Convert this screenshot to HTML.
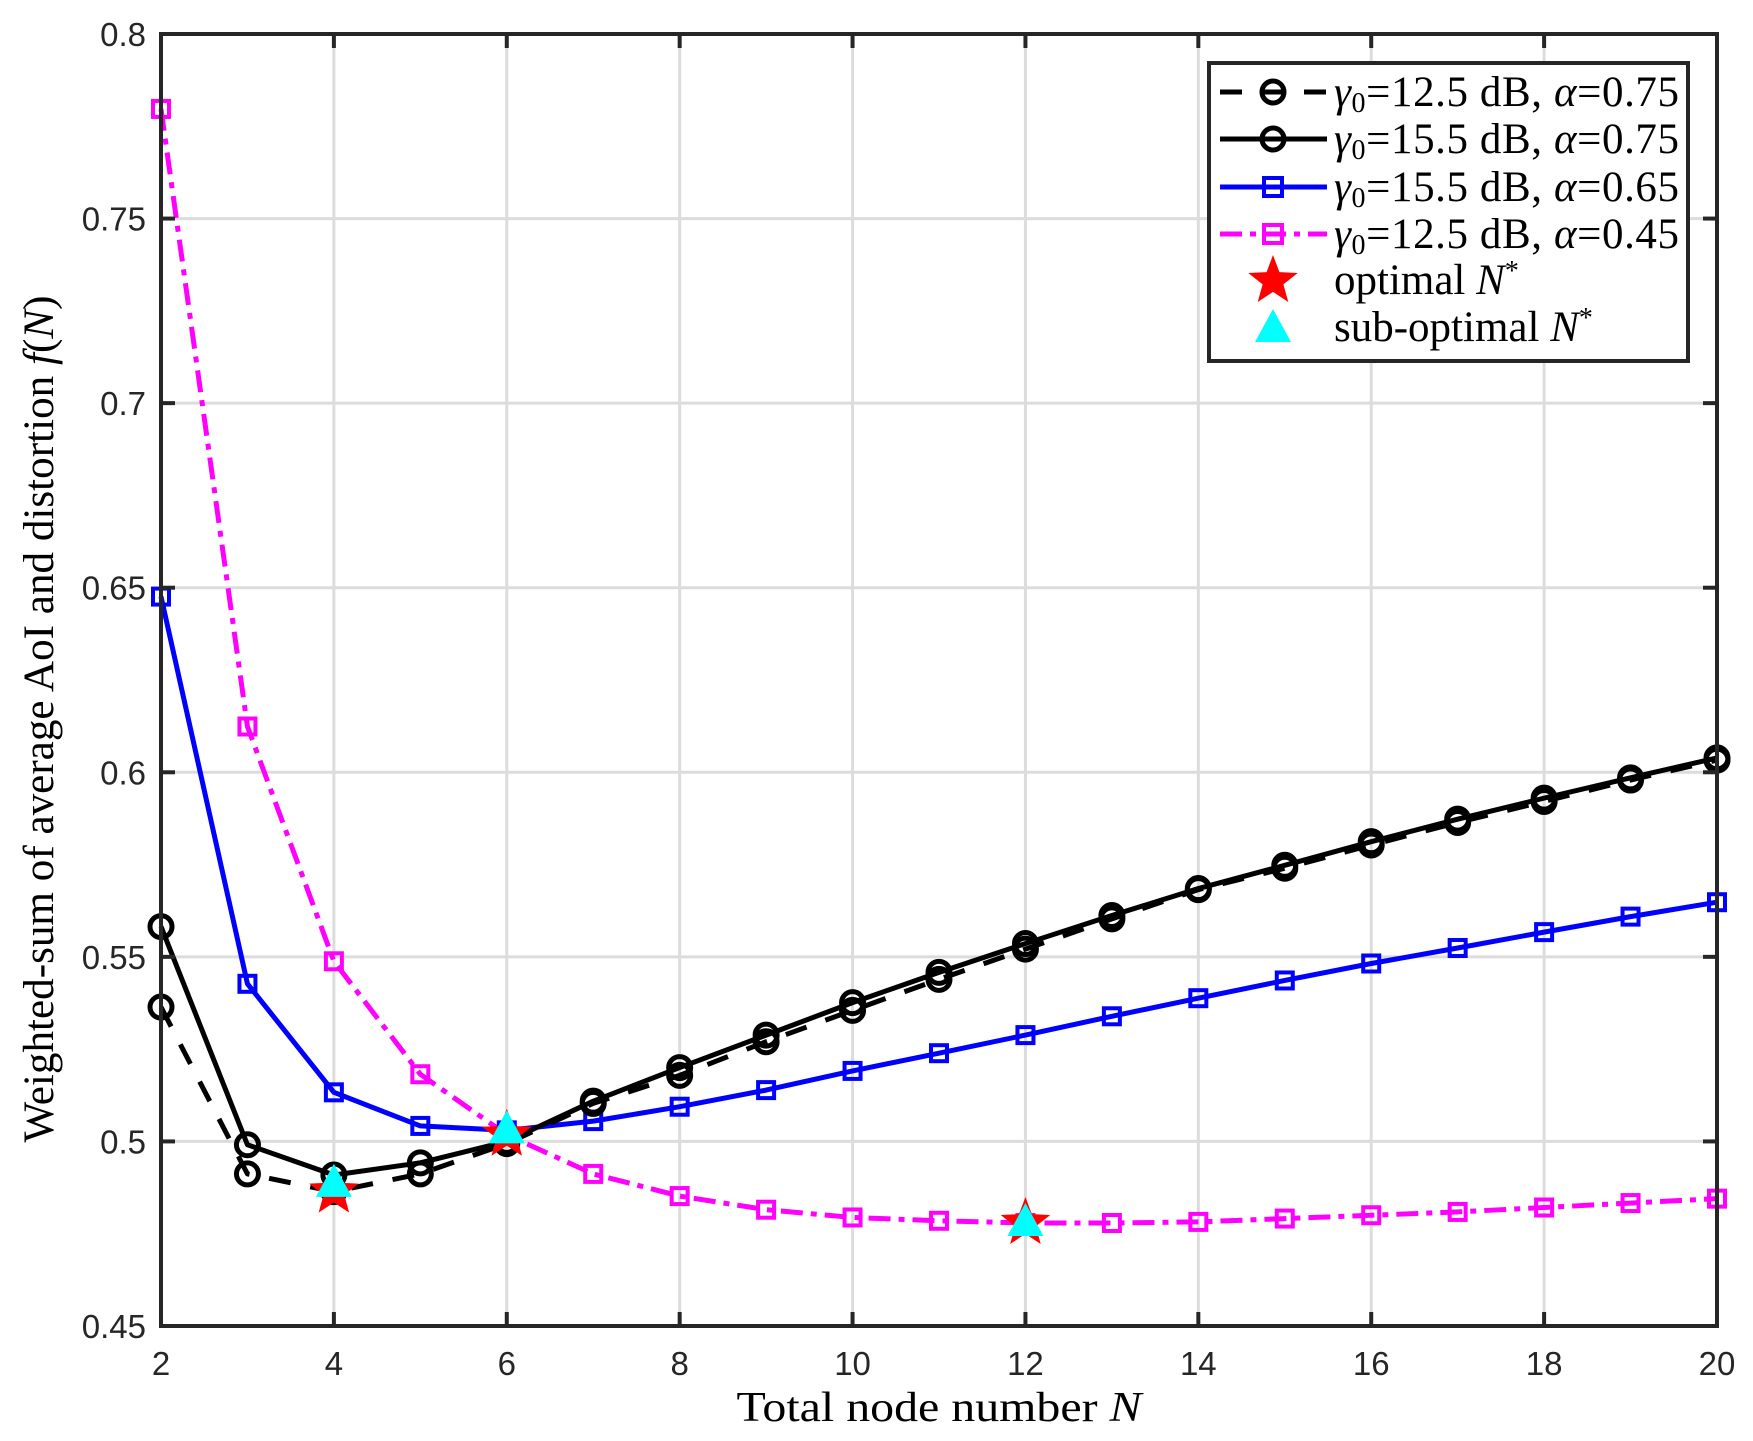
<!DOCTYPE html>
<html><head><meta charset="utf-8"><style>
html,body{margin:0;padding:0;background:#fff;}
svg{display:block;}
.tk{font-family:"Liberation Sans",sans-serif;font-size:33px;fill:#262626;}
.sf{font-family:"Liberation Serif",serif;fill:#000;}
</style></head><body>
<svg id="s" width="1753" height="1441" xmlns="http://www.w3.org/2000/svg">
<rect width="1753" height="1441" fill="#fff"/>
<g id="grid"></g>
<g id="series"></g>
<rect x="161" y="34" width="1556" height="1292" fill="none" stroke="#262626" stroke-width="4"/>
<g id="ticks"></g>
<text class="sf" x="939" y="1421" font-size="42" text-anchor="middle" textLength="405" lengthAdjust="spacingAndGlyphs">Total node number <tspan font-style="italic">N</tspan></text>
<text class="sf" transform="translate(53,719) rotate(-90)" font-size="43" text-anchor="middle" textLength="847" lengthAdjust="spacingAndGlyphs">Weighted-sum of average AoI and distortion <tspan font-style="italic">f</tspan>(<tspan font-style="italic">N</tspan>)</text>
<g id="legend">
<rect x="1209" y="63" width="479" height="298" fill="#fff" stroke="#262626" stroke-width="4"/>
<line x1="1220" y1="92" x2="1327" y2="92" stroke="#000" stroke-width="5" stroke-dasharray="22,20"/>
<circle cx="1273" cy="92" r="11" fill="none" stroke="#000" stroke-width="5"/>
<line x1="1220" y1="139" x2="1327" y2="139" stroke="#000" stroke-width="5"/>
<circle cx="1273" cy="139" r="11" fill="none" stroke="#000" stroke-width="5"/>
<line x1="1220" y1="187" x2="1327" y2="187" stroke="#00f" stroke-width="5"/>
<rect x="1264" y="178" width="18" height="18" fill="none" stroke="#00f" stroke-width="4"/>
<line x1="1220" y1="234" x2="1327" y2="234" stroke="#f0f" stroke-width="5" stroke-dasharray="22,8,6,8"/>
<rect x="1264" y="225" width="18" height="18" fill="none" stroke="#f0f" stroke-width="4"/>
<polygon id="lstar" fill="#f00"/>
<polygon points="1273,309 1255,342 1291,342" fill="#0ff"/>
<g class="sf" font-size="43">
<text x="1334" y="106" textLength="345"><tspan font-style="italic">γ</tspan><tspan font-size="28" dy="6">0</tspan><tspan dy="-6">=12.5 dB, </tspan><tspan font-style="italic">α</tspan>=0.75</text>
<text x="1334" y="153" textLength="345"><tspan font-style="italic">γ</tspan><tspan font-size="28" dy="6">0</tspan><tspan dy="-6">=15.5 dB, </tspan><tspan font-style="italic">α</tspan>=0.75</text>
<text x="1334" y="201" textLength="345"><tspan font-style="italic">γ</tspan><tspan font-size="28" dy="6">0</tspan><tspan dy="-6">=15.5 dB, </tspan><tspan font-style="italic">α</tspan>=0.65</text>
<text x="1334" y="248" textLength="345"><tspan font-style="italic">γ</tspan><tspan font-size="28" dy="6">0</tspan><tspan dy="-6">=12.5 dB, </tspan><tspan font-style="italic">α</tspan>=0.45</text>
<text x="1334" y="294">optimal <tspan font-style="italic">N</tspan><tspan font-size="28" dy="-14">*</tspan></text>
<text x="1334" y="341">sub-optimal <tspan font-style="italic">N</tspan><tspan font-size="28" dy="-14">*</tspan></text>
</g>
</g>
</svg>
<script>
var NS="http://www.w3.org/2000/svg";
function X(n){return 161+(n-2)*86.444;}
function Y(v){return 34+(0.8-v)*3691.4;}
function el(p,t,a){var e=document.createElementNS(NS,t);for(var k in a)e.setAttribute(k,a[k]);p.appendChild(e);return e;}
var g=document.getElementById('grid'),tk=document.getElementById('ticks');
for(var n=4;n<=18;n+=2){el(g,'line',{x1:X(n),x2:X(n),y1:34,y2:1326,stroke:'#dcdcdc','stroke-width':3});}
for(var n=2;n<=20;n+=2){el(tk,'line',{x1:X(n),x2:X(n),y1:1326,y2:1312,stroke:'#262626','stroke-width':4});el(tk,'line',{x1:X(n),x2:X(n),y1:34,y2:48,stroke:'#262626','stroke-width':4});
var t=el(tk,'text',{x:X(n),y:1375,'text-anchor':'middle','class':'tk'});t.textContent=n;}
var yl=['0.45','0.5','0.55','0.6','0.65','0.7','0.75','0.8'];
for(var i=0;i<8;i++){var v=0.45+i*0.05,y=Y(v);
if(i>0&&i<7)el(g,'line',{x1:161,x2:1717,y1:y,y2:y,stroke:'#dcdcdc','stroke-width':3});
el(tk,'line',{x1:161,x2:175,y1:y,y2:y,stroke:'#262626','stroke-width':4});el(tk,'line',{x1:1717,x2:1703,y1:y,y2:y,stroke:'#262626','stroke-width':4});
var t=el(tk,'text',{x:146,y:y+12,'text-anchor':'end','class':'tk'});t.textContent=yl[i];}
var d1=[0.5364,0.4912,0.4864,0.4912,0.4994,0.5103,0.5179,0.527,0.5355,0.5439,0.5521,0.5603,0.5682,0.574,0.5803,0.5864,0.5921,0.5979,0.6033];
var d2=[0.5582,0.4991,0.4909,0.4942,0.5,0.5109,0.52,0.5288,0.5376,0.5458,0.5536,0.5612,0.5685,0.5748,0.5812,0.5873,0.593,0.5985,0.6039];
var d3=[0.6476,0.5427,0.5133,0.5042,0.503,0.5055,0.5094,0.5139,0.5191,0.5239,0.5288,0.5339,0.5388,0.5436,0.5482,0.5524,0.5567,0.5609,0.5648];
var d4=[0.7797,0.6124,0.5488,0.5182,0.5018,0.4912,0.4852,0.4815,0.4794,0.4785,0.4779,0.4779,0.4782,0.4791,0.48,0.4809,0.4821,0.4833,0.4845];
var s=document.getElementById('series');
function pts(d){return d.map(function(v,i){return X(i+2)+','+Y(v);}).join(' ');}
function series(d,col,dash,mk){var a={points:pts(d),fill:'none',stroke:col,'stroke-width':5,'stroke-linejoin':'round'};if(dash)a['stroke-dasharray']=dash;el(s,'polyline',a);
d.forEach(function(v,i){var x=X(i+2),y=Y(v);if(mk=='o')el(s,'circle',{cx:x,cy:y,r:11,fill:'none',stroke:col,'stroke-width':5});else el(s,'rect',{x:x-8,y:y-8,width:16,height:16,fill:'none',stroke:col,'stroke-width':4});});}
series(d4,'#f0f','22,8,6,8','s');
series(d3,'#00f',null,'s');
series(d1,'#000','22,20','o');
series(d2,'#000',null,'o');
function star(cx,cy,R){var r=R*0.42,p=[];for(var i=0;i<10;i++){var a=-Math.PI/2+i*Math.PI/5,rr=i%2?r:R;p.push((cx+rr*Math.cos(a))+','+(cy+rr*Math.sin(a)));}return p.join(' ');}
[[4,0.4864],[6,0.5018],[12,0.4779]].forEach(function(q){el(s,'polygon',{points:star(X(q[0]),Y(q[1]),26),fill:'#f00'});});
[[4,0.4885],[6,0.503],[12,0.4779]].forEach(function(q){var x=X(q[0]),y=Y(q[1]);el(s,'polygon',{points:x+','+(y-20)+' '+(x-18)+','+(y+13)+' '+(x+18)+','+(y+13),fill:'#0ff'});});
document.getElementById('lstar').setAttribute('points',star(1273,281,26));
</script>
</body></html>
